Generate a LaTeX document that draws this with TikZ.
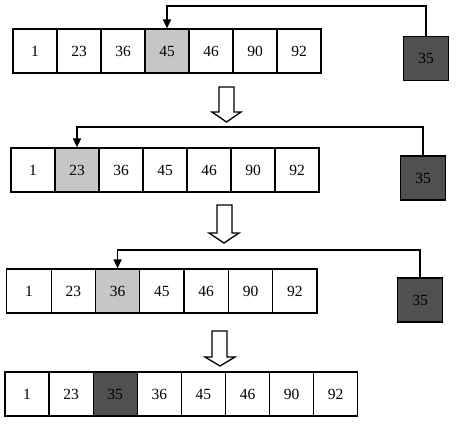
\documentclass[tikz,border=0pt]{standalone}
\usepackage{fontspec}
\setmainfont{Liberation Serif}
\usetikzlibrary{arrows.meta}
\definecolor{lightcell}{HTML}{C6C6C6}
\definecolor{darkcell}{HTML}{505050}
\tikzset{
  cell/.style={draw=black, line width=1.2pt, minimum height=44pt, inner sep=0pt,
    font=\fontsize{15.5}{17}\selectfont},
  lit/.style={fill=lightcell},
  dk/.style={fill=darkcell},
  keybox/.style={draw=black, line width=1.2pt, fill=darkcell, minimum width=45pt, minimum height=44pt,
    inner sep=0pt, font=\fontsize{15.5}{17}\selectfont},
  link/.style={line width=1.5pt, -{Triangle[length=9pt,width=8pt]}},
  hollow/.style={draw=black, line width=1.3pt, fill=white, line join=miter}
}
\begin{document}
\begin{tikzpicture}[x=1pt,y=-1pt]
\useasboundingbox (0,0) rectangle (458,425);
% ---- Row 1 ----
\foreach \v [count=\i from 0] in {1,23,36,45,46,90,92}{
  \node[cell, minimum width=44pt] (a\i) at (35+44*\i,51) {\v};
}
\node[cell, lit, minimum width=44pt] (a3) at (35+44*3,51) {45};
\node[keybox] (k1) at (426,58.5) {35};
\coordinate (t1) at (0,6);
\draw[link] (k1.north) |- (a3.north |- t1) -- (a3.north);
% hollow arrow 1
\draw[hollow] (219,87) -- (234,87) -- (234,112) -- (241,112) -- (226.5,122) -- (212,112) -- (219,112) -- cycle;
% ---- Row 2 ----
\foreach \v [count=\i from 0] in {1,23,36,45,46,90,92}{
  \node[cell, minimum width=44pt] (b\i) at (33+44*\i,170) {\v};
}
\node[cell, lit, minimum width=44pt] (b1) at (33+44*1,170) {23};
\node[keybox] (k2) at (423,178) {35};
\coordinate (t2) at (0,127);
\draw[link] (k2.north) |- (b1.north |- t2) -- (b1.north);
% hollow arrow 2
\draw[hollow] (217,205) -- (232,205) -- (232,233) -- (239,233) -- (224,243) -- (209,233) -- (217,233) -- cycle;
% ---- Row 3 ----
\foreach \v [count=\i from 0] in {1,23,36,45,46,90,92}{
  \node[cell, minimum width=44.3pt] (c\i) at (29+44.3*\i,291) {\v};
}
\node[cell, lit, minimum width=44.3pt] (c2) at (29+44.3*2,291) {36};
\node[keybox] (k3) at (420,300) {35};
\coordinate (t3) at (0,250);
\draw[link] (k3.north) |- (c2.north |- t3) -- (c2.north);
% hollow arrow 3
\draw[hollow] (212,331) -- (227,331) -- (227,357) -- (235,357) -- (220,366) -- (205,357) -- (212,357) -- cycle;
% ---- Row 4 ----
\foreach \v [count=\i from 0] in {1,23,35,36,45,46,90,92}{
  \node[cell, minimum width=44.1pt] (d\i) at (27+44.1*\i,394) {\v};
}
\node[cell, dk, minimum width=44.1pt] (d2) at (27+44.1*2,394) {35};
\end{tikzpicture}
\end{document}
